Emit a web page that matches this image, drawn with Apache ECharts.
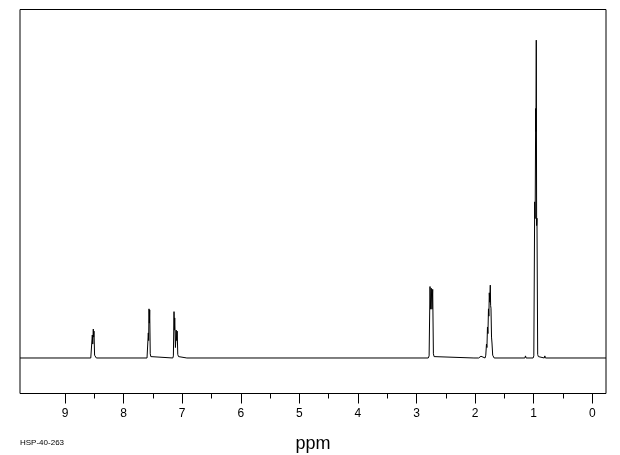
<!DOCTYPE html>
<html>
<head>
<meta charset="utf-8">
<script src="https://cdn.jsdelivr.net/npm/echarts@6/dist/echarts.min.js"></script>
<style>
html,body{margin:0;padding:0;background:#fff;}
#c{width:620px;height:455px;}
</style>
</head>
<body>
<div id="c"></div>
<script>
// Chemical shift range shown (ppm), axis runs right-to-left
const ppmMax = 9.768;
const ppmMin = -0.234;
const majorTicks = [0, 1, 2, 3, 4, 5, 6, 7, 8, 9];
const minorTicks = [0.5, 1.5, 2.5, 3.5, 4.5, 5.5, 6.5, 7.5, 8.5];
const axisTitle = 'ppm';
const sampleId = 'HSP-40-263';

// Spectrum trace: [ppm, intensity]
const spectrum = [
  [9.768, 0],
  [8.560, 0], [8.545, 0.4], [8.534, 6.6], [8.526, 4.0], [8.517, 8.3], [8.511, 6.0], [8.505, 7.7], [8.495, 0.8], [8.480, 0.3], [8.465, 0],
  [7.600, 0], [7.588, 0.5], [7.578, 7.2], [7.572, 5.0], [7.566, 14.1], [7.560, 10.0], [7.554, 13.8], [7.545, 1.2], [7.535, 0.4], [7.520, 0],
  [7.160, 0], [7.150, 0.6], [7.139, 13.3], [7.133, 8.0], [7.127, 11.5], [7.115, 3.0], [7.102, 8.0], [7.094, 5.0], [7.085, 7.7], [7.075, 1.0], [7.062, 0.4], [7.050, 0],
  [6.920, 0], [6.910, 0.5], [6.900, 0],
  [2.800, 0], [2.785, 0.6], [2.770, 20.5], [2.759, 14.0], [2.748, 20.0], [2.736, 14.0], [2.724, 19.7], [2.712, 1.2], [2.700, 0.4], [2.690, 0],
  [2.020, 0], [2.010, 0.5], [2.000, 0],
  [1.940, 0], [1.930, 0.5], [1.920, 0],
  [1.910, 0], [1.900, 0.5], [1.890, 0],
  [1.830, 0], [1.818, 0.8], [1.806, 4.0], [1.798, 3.0], [1.789, 8.9], [1.781, 7.0], [1.772, 14.1], [1.765, 12.0], [1.758, 18.7], [1.750, 16.0], [1.741, 20.9], [1.735, 15.0], [1.729, 14.3], [1.720, 6.0], [1.712, 4.3], [1.700, 0.8], [1.688, 0.3], [1.675, 0],
  [1.150, 0], [1.140, 0.6], [1.130, 0],
  [1.010, 0], [0.998, 0.6], [0.983, 44.8], [0.975, 40.0], [0.966, 71.6], [0.961, 65.0], [0.956, 91.2], [0.950, 38.0], [0.944, 40.1], [0.932, 1.0], [0.920, 0.4], [0.905, 0],
  [0.820, 0], [0.810, 0.6], [0.800, 0],
  [-0.234, 0]
];

const chart = echarts.init(document.getElementById('c'), null, {renderer: 'canvas'});
const fontFam = '"Liberation Sans", Arial, sans-serif';
chart.setOption({
  animation: false,
  backgroundColor: '#ffffff',
  grid: {
    left: 20, right: 14, top: 9.5, bottom: 61.5,
    containLabel: false, outerBoundsMode: 'none',
    show: true, borderColor: '#000', borderWidth: 1, backgroundColor: 'transparent'
  },
  xAxis: [{
    type: 'value', inverse: true, min: ppmMin, max: ppmMax, position: 'bottom',
    name: axisTitle, nameLocation: 'middle', nameGap: 42,
    nameTextStyle: {color: '#000', fontSize: 18, fontFamily: fontFam, fontWeight: 'lighter'},
    axisLine: {show: false, onZero: false},
    splitLine: {show: false},
    axisTick: {show: true, customValues: majorTicks, length: 10, lineStyle: {color: '#000', width: 1}},
    axisLabel: {show: true, customValues: majorTicks, margin: 14, color: '#000', fontSize: 12, fontFamily: fontFam,
      formatter: v => String(Math.round(v))}
  }, {
    type: 'value', inverse: true, min: ppmMin, max: ppmMax, position: 'bottom',
    axisLine: {show: false, onZero: false},
    splitLine: {show: false},
    axisTick: {show: true, customValues: minorTicks, length: 5, lineStyle: {color: '#000', width: 1}},
    axisLabel: {show: false}
  }],
  yAxis: {
    type: 'value', min: -10.19, max: 100, show: false, splitLine: {show: false}
  },
  graphic: [{
    type: 'text', left: 20, top: 438.5,
    style: {text: sampleId, fill: '#000', font: '8px "Liberation Sans", Arial, sans-serif'}
  }],
  series: [{
    type: 'line', xAxisIndex: 0, data: spectrum, showSymbol: false, symbol: 'none',
    lineStyle: {color: '#000', width: 1}, silent: true
  }]
});
</script>
</body>
</html>
